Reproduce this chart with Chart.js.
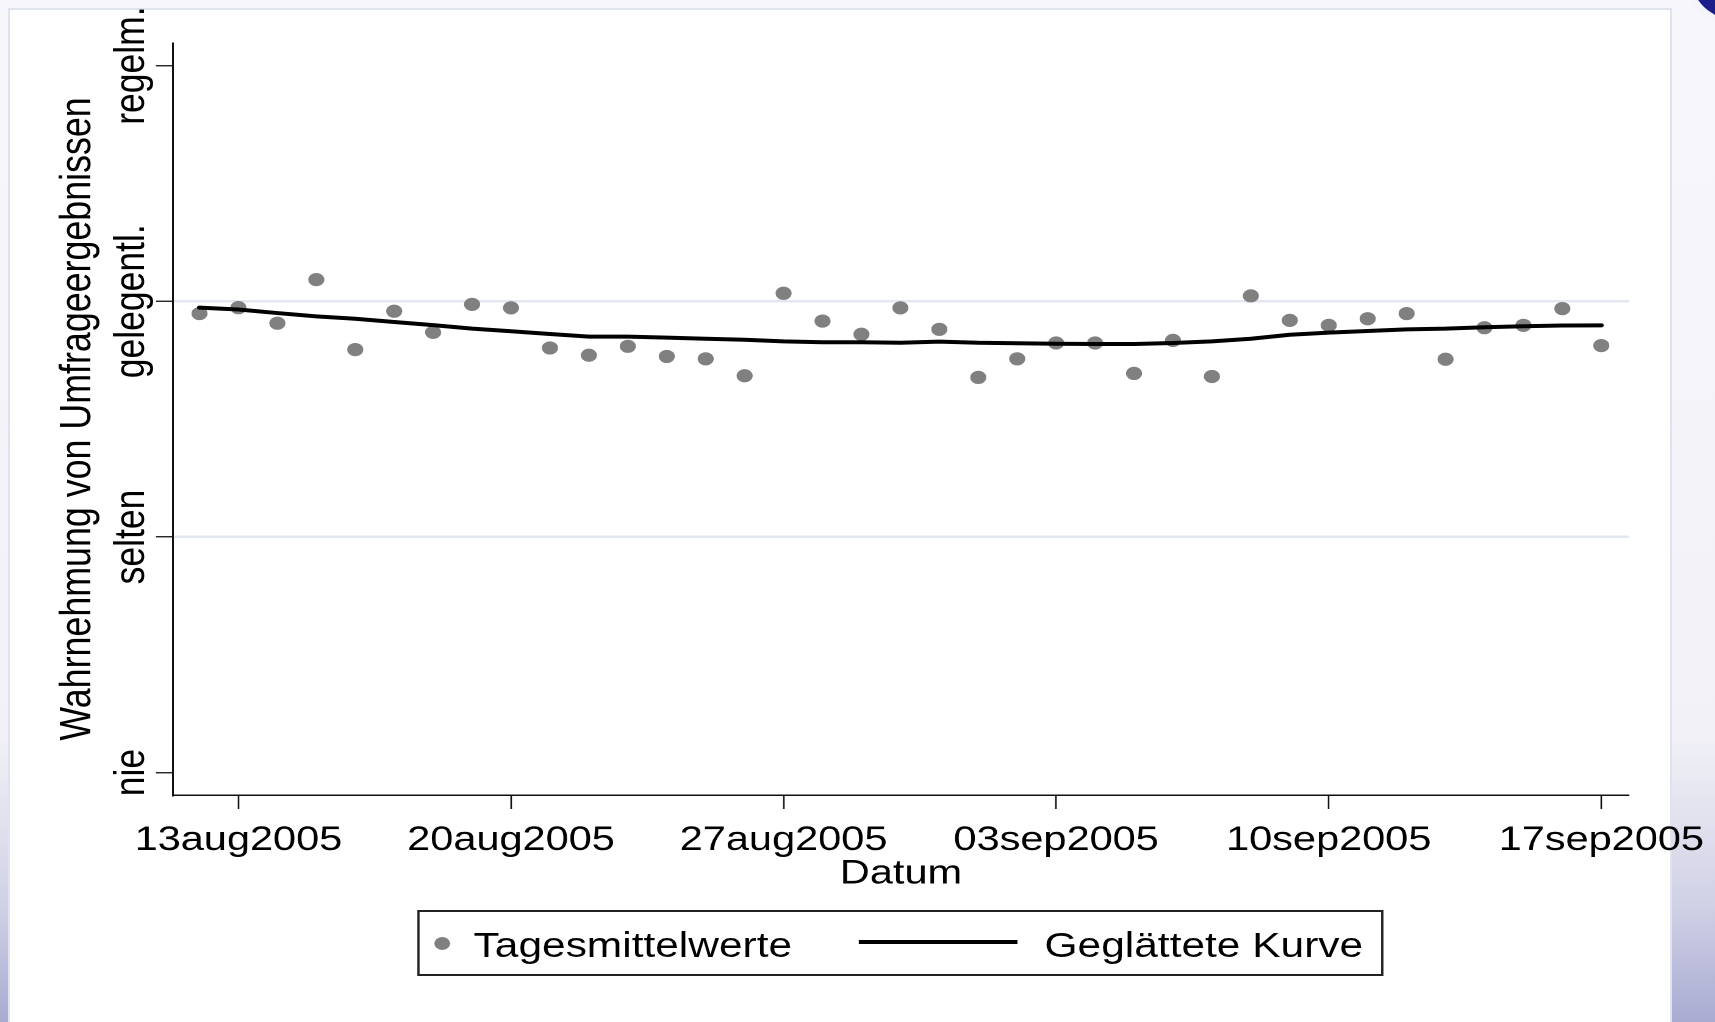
<!DOCTYPE html>
<html>
<head>
<meta charset="utf-8">
<title>Wahrnehmung von Umfrageergebnissen</title>
<script src="https://cdn.jsdelivr.net/npm/chart.js@4.4.1/dist/chart.umd.min.js"></script>
<style>
    html, body { margin: 0; padding: 0; }
    body {
        width: 1715px;
        height: 1022px;
        overflow: hidden;
        position: relative;
        background: linear-gradient(to bottom, #f7f7fb 0%, #f1f1f7 72%, #d2d2e7 88%, #a9abd1 100%);
        font-family: "Liberation Sans", Arial, sans-serif;
    }
    #frame {
        position: absolute;
        left: 8px;
        top: 8px;
        width: 1660px;
        height: 1030px;
        background: #fff;
        border: 2px solid #dfe3ee;
    }
    #logo {
        position: absolute;
        left: 1694px;
        top: -52px;
        width: 120px;
        height: 76px;
        border-radius: 50%;
        background: #1d1d8a;
        box-shadow: -3px 3px 0 3px #f4f4fa;
    }
    /* the original picture is stretched sideways */
    #stretch {
        position: absolute;
        left: 0;
        top: 0;
        width: 1406px;
        height: 1022px;
        transform: scaleX(1.22);
        transform-origin: 0 0;
    }
    #userChart { position: absolute; left: 0; top: 0; }
    #legend {
        position: absolute;
        left: 341.8px;
        top: 910px;
        width: 791.8px;
        height: 66px;
        box-sizing: border-box;
        border: 2px solid #222;
        font-size: 34.8px;
        line-height: 34px;
        color: #000;
    }
    #legend .dot {
        position: absolute;
        left: 12px;
        top: 24.5px;
        width: 13px;
        height: 13px;
        border-radius: 50%;
        background: #808080;
    }
    #legend .line {
        position: absolute;
        left: 360px;
        top: 27.8px;
        width: 130px;
        height: 4px;
        background: #000;
    }
    #legend .txt { position: absolute; top: 15.5px; white-space: nowrap; }
</style>
</head>
<body>
<div id="frame"></div>
<div id="logo"></div>
<div id="stretch">
    <canvas id="userChart" width="1406" height="1022"></canvas>
    <div id="legend">
        <span class="dot"></span>
        <span class="txt" style="left: 44.4px;">Tagesmittelwerte</span>
        <span class="line"></span>
        <span class="txt" style="left: 512.4px;">Geglättete Kurve</span>
    </div>
</div>
<script>
const dates = [
    '2005-08-12', '2005-08-13', '2005-08-14', '2005-08-15', '2005-08-16', '2005-08-17', '2005-08-18',
    '2005-08-19', '2005-08-20', '2005-08-21', '2005-08-22', '2005-08-23', '2005-08-24', '2005-08-25',
    '2005-08-26', '2005-08-27', '2005-08-28', '2005-08-29', '2005-08-30', '2005-08-31', '2005-09-01',
    '2005-09-02', '2005-09-03', '2005-09-04', '2005-09-05', '2005-09-06', '2005-09-07', '2005-09-08',
    '2005-09-09', '2005-09-10', '2005-09-11', '2005-09-12', '2005-09-13', '2005-09-14', '2005-09-15',
    '2005-09-16', '2005-09-17'
];
const dailyMeans = [
    2.948, 2.973, 2.907, 3.092, 2.795, 2.958, 2.868,
    2.987, 2.972, 2.802, 2.771, 2.809, 2.766, 2.756,
    2.684, 3.034, 2.916, 2.860, 2.972, 2.881, 2.677,
    2.756, 2.823, 2.823, 2.694, 2.834, 2.681, 3.023,
    2.919, 2.898, 2.926, 2.948, 2.754, 2.888, 2.898,
    2.969, 2.812
];
const smoothed = [
    2.973, 2.965, 2.950, 2.936, 2.926, 2.912, 2.899,
    2.884, 2.873, 2.861, 2.850, 2.850, 2.846, 2.841,
    2.837, 2.830, 2.826, 2.826, 2.824, 2.829, 2.824,
    2.822, 2.820, 2.819, 2.819, 2.823, 2.830, 2.841,
    2.858, 2.867, 2.874, 2.881, 2.884, 2.890, 2.894,
    2.897, 2.898
];
const tickDates = ['2005-08-13', '2005-08-20', '2005-08-27', '2005-09-03', '2005-09-10', '2005-09-17'];
const tickLabels = ['13aug2005', '20aug2005', '27aug2005', '03sep2005', '10sep2005', '17sep2005'];
const yTickValues = [1, 2, 3, 4];
const yTickLabels = ['nie', 'selten', 'gelegentl.', 'regelm.'];

const startDay = Date.parse('2005-08-13');
const toDay = (d) => (Date.parse(d) - startDay) / 86400000;

Chart.defaults.font.family = '"Liberation Sans", Arial, sans-serif';
Chart.defaults.font.size = 34;
Chart.defaults.color = '#000';

// y tick labels are turned, centred on the tick
const yTickLabelPlugin = {
    id: 'yTickLabels',
    afterDraw(chart) {
        const scale = chart.scales.y;
        const ctx = chart.ctx;
        const x = scale.right - 14 - 10;
        ctx.save();
        ctx.font = '35.5px "Liberation Sans", Arial, sans-serif';
        ctx.fillStyle = '#000';
        ctx.textAlign = 'center';
        ctx.textBaseline = 'alphabetic';
        yTickValues.forEach((v, i) => {
            const y = scale.getPixelForValue(v);
            ctx.save();
            ctx.translate(x, y);
            ctx.rotate(-Math.PI / 2);
            ctx.fillText(yTickLabels[i], 0, 0);
            ctx.restore();
        });
        ctx.restore();
    }
};

document.addEventListener('DOMContentLoaded', function () {
    const canvas = document.getElementById('userChart');

    new Chart(canvas, {
        type: 'scatter',
        data: {
            datasets: [
                {
                    type: 'line',
                    label: 'Geglättete Kurve',
                    data: dates.map((d, i) => ({ x: toDay(d), y: smoothed[i] })),
                    borderColor: '#000',
                    borderWidth: 4,
                    borderCapStyle: 'round',
                    borderJoinStyle: 'round',
                    pointRadius: 0,
                    tension: 0,
                    fill: false,
                    order: 0
                },
                {
                    label: 'Tagesmittelwerte',
                    data: dates.map((d, i) => ({ x: toDay(d), y: dailyMeans[i] })),
                    backgroundColor: '#808080',
                    borderWidth: 0,
                    pointRadius: 6.6,
                    pointHoverRadius: 6.6,
                    order: 1
                }
            ]
        },
        options: {
            responsive: false,
            animation: false,
            devicePixelRatio: 2,
            layout: {
                padding: { left: 0, top: 43, right: 70.8, bottom: 130.7 }
            },
            plugins: {
                legend: { display: false },
                tooltip: { enabled: false }
            },
            scales: {
                x: {
                    type: 'linear',
                    min: -1.68,
                    max: 35.71,
                    afterBuildTicks: (scale) => {
                        scale.ticks = tickDates.map((d) => ({ value: toDay(d) }));
                    },
                    afterFit: (scale) => {
                        scale.height = 96.3;
                        // end labels may hang over, keep the plot width fixed
                        scale.paddingLeft = 0;
                        scale.paddingRight = 0;
                    },
                    ticks: {
                        autoSkip: false,
                        minRotation: 0,
                        maxRotation: 0,
                        padding: 6,
                        color: '#000',
                        font: { size: 34, lineHeight: 1.5 },
                        callback: (value, index) => tickLabels[index]
                    },
                    grid: {
                        drawOnChartArea: false,
                        drawTicks: true,
                        tickLength: 14,
                        tickColor: '#111',
                        tickWidth: 1.3
                    },
                    border: { display: true, color: '#111', width: 1.5 },
                    title: {
                        display: true,
                        text: 'Datum',
                        color: '#000',
                        font: { size: 34, lineHeight: 1 },
                        padding: { top: 0, bottom: 0 }
                    }
                },
                y: {
                    type: 'linear',
                    min: 0.905,
                    max: 4.096,
                    afterBuildTicks: (scale) => {
                        scale.ticks = yTickValues.map((v) => ({ value: v }));
                    },
                    afterFit: (scale) => {
                        scale.width = 141.8;
                    },
                    ticks: { display: false },
                    grid: {
                        color: (c) => (c.tick && (c.tick.value === 2 || c.tick.value === 3)) ? '#e3e7f2' : 'rgba(0,0,0,0)',
                        lineWidth: 2.5,
                        drawTicks: true,
                        tickLength: 14,
                        tickColor: '#111',
                        tickWidth: 1.3
                    },
                    border: { display: true, color: '#111', width: 1.5 },
                    title: {
                        display: true,
                        text: 'Wahrnehmung von Umfrageergebnissen',
                        color: '#000',
                        font: { size: 35.8, lineHeight: 1 },
                        padding: { top: 46, bottom: 0 }
                    }
                }
            }
        },
        plugins: [yTickLabelPlugin]
    });
});
</script>
</body>
</html>
